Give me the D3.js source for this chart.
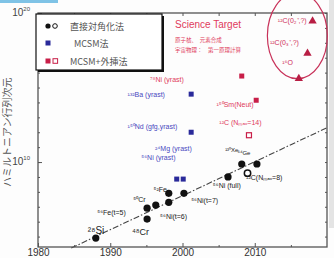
<!DOCTYPE html>
<html><head>
<meta charset="utf-8">
<script src="https://d3js.org/d3.v7.min.js"></script>
<style>
  body { margin: 0; background: #fdfdfd; }
  svg text { font-family: "Liberation Sans", Arial, "Noto Sans CJK JP", sans-serif; }
  .jp { font-family: "Noto Sans CJK JP", sans-serif; }
</style>
</head>
<body>
<script>
  // 直接対角化法 (filled / open circles)
  const directYears = [1988.0, 1995.1, 1995.1, 1996.3, 1998.1, 1998.1, 2000.2, 2006.3, 2008.2, 2010.3]
  const directDims  = [8e4, 1.5e6, 8e6, 1.3e7, 2e7, 8e7, 8e7, 1e9, 7.4e9, 7.4e9]
  const directOpenYears = [2009.0]
  const directOpenDims  = [1.8e9]
  // MCSM法
  const mcsmYears = [1999.2, 2000.1, 2001.2, 2001.2]
  const mcsmDims  = [7.2e8, 7.2e8, 3.6e14, 1e12]
  // MCSM+外挿法
  const extYears = [2008.2, 2010.2]
  const extDims  = [5.9e15, 1.4e14]
  const extOpenYears = [2009.2]
  const extOpenDims  = [6.3e11]
  // Science Target
  const targetYears = [2018.0, 2017.3, 2016.1]
  const targetDims  = [2.9e19, 2e17, 4e15]
  // trend line end points
  const trendYears = [1984.6, 2020]
  const trendDims  = [1.7e4, 2e12]

  const xTicks = [1980, 1990, 2000, 2010]
  const xMinor = [1985, 1995, 2005, 2015]
  const yLabelTicks = [1e10, 1e20]

  // point labels: [text, year, dim, color, size]
  const labels = [
    ["²⁸Si", 1986.9, 1.6e5, "#222", 10],
    ["⁴⁸Cr", 1993.0, 1.2e5, "#222", 9],
    ["⁵⁶Fe(t=5)", 1988.2, 2.9e6, "#222", 7],
    ["⁵⁰Cr", 1993.2, 2.1e7, "#222", 7],
    ["⁵²Fe", 1996.0, 1.0e8, "#222", 7],
    ["⁵⁶Ni(t=6)", 1996.9, 1.5e6, "#222", 7],
    ["⁵⁶Ni(t=7)", 2001.2, 1.8e7, "#222", 7],
    ["⁵⁶Ni (full)", 2004.2, 1.7e8, "#222", 7],
    ["¹²C(Nₘₐₓ=8)", 2008.8, 6.0e8, "#222", 7],
    ["¹³⁰Xe", 2005.9, 4.5e10, "#222", 6],
    ["⁶⁴Ge", 2007.6, 2.8e10, "#222", 6],
    ["²⁴Mg (yrast)", 1996.2, 5.5e10, "#4848c0", 7],
    ["⁵⁶Ni (yrast)", 1994.3, 1.4e10, "#4848c0", 7],
    ["¹³²Ba (yrast)", 1992.4, 2.2e14, "#4848c0", 7],
    ["¹⁵⁰Nd (gfg,yrast)", 1992.4, 1.7e12, "#4848c0", 7],
    ["⁷⁸Ni (yrast)", 1995.5, 2.5e15, "#e03a5c", 7],
    ["¹⁵⁰Sm(Neut)", 2004.7, 5.0e13, "#e03a5c", 7],
    ["¹²C (Nₘₐₓ=14)", 2005.1, 3.2e12, "#e03a5c", 7],
    ["¹²C(0₂⁺,?)", 2013.2, 2.2e19, "#d0305a", 7],
    ["¹²C(0₃⁺,?)", 2012.1, 7.0e17, "#d0305a", 7],
    ["¹⁶O", 2013.8, 3.3e16, "#d0305a", 7]
  ]

  const W = 334, H = 258
  const margin = {top: 13, right: 7, bottom: 11, left: 38}

  const svg = d3.select("body").append("svg")
                .attr("width", W).attr("height", H)

  svg.append("rect").attr("width", W).attr("height", H).attr("fill", "#fdfdfd")
  svg.append("rect").attr("x", 0).attr("y", 0).attr("width", 58).attr("height", 3).attr("fill", "#7fc3e6")
  svg.append("rect").attr("x", 329).attr("y", 0).attr("width", 5).attr("height", 228).attr("fill", "#e4e4e4")

  const x = d3.scaleLinear().domain([1980, 2020]).range([margin.left, W - margin.right])
  const y = d3.scaleLog().domain([2e4, 1e20]).range([H - margin.bottom, margin.top])

  const axisColor = "#555"

  // axes
  const bottomAx = svg.append("g").attr("transform", `translate(0,${y.range()[0]})`)
                    .call(d3.axisBottom(x).tickValues(xTicks).tickSize(-4).tickPadding(2).tickFormat(d3.format("d")))
  bottomAx.select(".domain").remove()
  bottomAx.selectAll("line").attr("stroke", axisColor)
  bottomAx.selectAll("text").attr("fill", "#333").style("font-size", "10px")

  const bottomMinor = svg.append("g").attr("transform", `translate(0,${y.range()[0]})`)
                    .call(d3.axisBottom(x).tickValues(xMinor).tickSize(-2).tickFormat(""))
  bottomMinor.select(".domain").remove()
  bottomMinor.selectAll("line").attr("stroke", axisColor)

  const topAx = svg.append("g").attr("transform", `translate(0,${y.range()[1]})`)
                    .call(d3.axisTop(x).tickValues(xTicks.concat(xMinor)).tickSize(-3).tickFormat(""))
  topAx.select(".domain").remove()
  topAx.selectAll("line").attr("stroke", axisColor)

  const decades = d3.range(5, 21).map(e => Math.pow(10, e))
  const leftAx = svg.append("g").attr("transform", `translate(${x.range()[0]},0)`)
                    .call(d3.axisLeft(y).tickValues(decades).tickSize(-2).tickFormat(""))
  leftAx.select(".domain").remove()
  leftAx.selectAll("line").attr("stroke", axisColor)
  const leftMajor = svg.append("g").attr("transform", `translate(${x.range()[0]},0)`)
                    .call(d3.axisLeft(y).tickValues(yLabelTicks).tickSize(-4).tickFormat(""))
  leftMajor.select(".domain").remove()
  leftMajor.selectAll("line").attr("stroke", axisColor)

  const rightAx = svg.append("g").attr("transform", `translate(${x.range()[1]},0)`)
                    .call(d3.axisRight(y).tickValues(decades).tickSize(-2).tickFormat(""))
  rightAx.select(".domain").remove()
  rightAx.selectAll("line").attr("stroke", axisColor)

  yLabelTicks.forEach(v => {
    const t = svg.append("text").attr("x", 30).attr("y", y(v) + 3)
                 .attr("text-anchor", "end").attr("fill", "#444").style("font-size", "10px")
                 .text("10")
    t.append("tspan").attr("dy", -5).style("font-size", "6px").text(Math.round(Math.log10(v)))
  })

  svg.append("text").attr("class", "jp")
     .attr("transform", `translate(11,${y(1e12)}) rotate(-90)`)
     .attr("text-anchor", "middle").attr("fill", "#555").style("font-size", "10px")
     .text("ハミルトニアン行列次元")

  // trend line
  svg.append("line")
     .attr("x1", x(trendYears[0])).attr("y1", y(trendDims[0]))
     .attr("x2", x(trendYears[1])).attr("y2", y(trendDims[1]))
     .attr("stroke", "#444").attr("stroke-width", 1.1).attr("stroke-dasharray", "6,2,1.5,2")

  // frame
  svg.append("rect")
     .attr("x", x.range()[0]).attr("y", y.range()[1])
     .attr("width", x.range()[1] - x.range()[0]).attr("height", y.range()[0] - y.range()[1])
     .attr("fill", "none").attr("stroke", axisColor).attr("stroke-width", 1.3)

  // science target ellipse
  svg.append("ellipse")
     .attr("cx", x(2015.9)).attr("cy", y(3e18))
     .attr("rx", 30).attr("ry", 43)
     .attr("fill", "none").attr("stroke", "#c8325a").attr("stroke-width", 1.2)

  // labels
  svg.append("g").selectAll("text").data(labels).join("text")
     .attr("x", d => x(d[1])).attr("y", d => y(d[2]))
     .attr("fill", d => d[3]).style("font-size", d => d[4] + "px")
     .text(d => d[0])

  // markers
  const direct = d3.zip(directYears, directDims)
  svg.append("g").selectAll("circle").data(direct).join("circle")
     .attr("cx", d => x(d[0])).attr("cy", d => y(d[1])).attr("r", 3.6).attr("fill", "#111")
  svg.append("g").selectAll("circle").data(d3.zip(directOpenYears, directOpenDims)).join("circle")
     .attr("cx", d => x(d[0])).attr("cy", d => y(d[1])).attr("r", 3.2)
     .attr("fill", "#fff").attr("stroke", "#111").attr("stroke-width", 1.5)

  const sq = 5
  svg.append("g").selectAll("rect").data(d3.zip(mcsmYears, mcsmDims)).join("rect")
     .attr("x", d => x(d[0]) - sq / 2).attr("y", d => y(d[1]) - sq / 2)
     .attr("width", sq).attr("height", sq).attr("fill", "#2a2a9a")
  svg.append("g").selectAll("rect").data(d3.zip(extYears, extDims)).join("rect")
     .attr("x", d => x(d[0]) - sq / 2).attr("y", d => y(d[1]) - sq / 2)
     .attr("width", sq).attr("height", sq).attr("fill", "#c81e48")
  svg.append("g").selectAll("rect").data(d3.zip(extOpenYears, extOpenDims)).join("rect")
     .attr("x", d => x(d[0]) - sq / 2).attr("y", d => y(d[1]) - sq / 2)
     .attr("width", sq).attr("height", sq)
     .attr("fill", "#fff").attr("stroke", "#c81e48").attr("stroke-width", 1.2)

  svg.append("g").selectAll("path").data(d3.zip(targetYears, targetDims)).join("path")
     .attr("transform", d => `translate(${x(d[0])},${y(d[1])})`)
     .attr("d", d3.symbol(d3.symbolTriangle, 30))
     .attr("fill", "#b81e44")

  // science target text
  svg.append("text").attr("x", 175).attr("y", 28).attr("fill", "#e03a5c")
     .style("font-size", "10px").text("Science Target")
  svg.append("text").attr("class", "jp").attr("x", 175).attr("y", 42).attr("fill", "#e03a5c")
     .style("font-size", "5.5px").text("原子核、　元素合成")
  svg.append("text").attr("class", "jp").attr("x", 175).attr("y", 52).attr("fill", "#e03a5c")
     .style("font-size", "5.5px").text("宇宙物理：　第一原理計算")

  // legend
  const lg = svg.append("g")
  lg.append("rect").attr("x", 38).attr("y", 16).attr("width", 126).attr("height", 56).attr("fill", "#111")
  lg.append("rect").attr("x", 36).attr("y", 14).attr("width", 126).attr("height", 56)
    .attr("fill", "#fff").attr("stroke", "#111").attr("stroke-width", 1.2)
  const rows = [26, 43, 61]
  lg.append("circle").attr("cx", 48).attr("cy", rows[0]).attr("r", 2.6).attr("fill", "#111")
  lg.append("circle").attr("cx", 55).attr("cy", rows[0]).attr("r", 2.3)
    .attr("fill", "#fff").attr("stroke", "#111").attr("stroke-width", 1)
  lg.append("rect").attr("x", 45.5).attr("y", rows[1] - 2.5).attr("width", 5).attr("height", 5).attr("fill", "#2a2a9a")
  lg.append("rect").attr("x", 45.5).attr("y", rows[2] - 2.5).attr("width", 5).attr("height", 5).attr("fill", "#c81e48")
  lg.append("rect").attr("x", 53).attr("y", rows[2] - 2.3).attr("width", 4.6).attr("height", 4.6)
    .attr("fill", "#fff").attr("stroke", "#c81e48").attr("stroke-width", 1)
  const legendText = ["直接対角化法", "MCSM法", "MCSM+外挿法"]
  lg.selectAll("text.lt").data(legendText).join("text").attr("class", "lt jp")
    .attr("x", (d, i) => i == 1 ? 74 : 70).attr("y", (d, i) => rows[i] + 3.5)
    .attr("fill", "#555").style("font-size", "9px").text(d => d)
</script>
</body></html>
